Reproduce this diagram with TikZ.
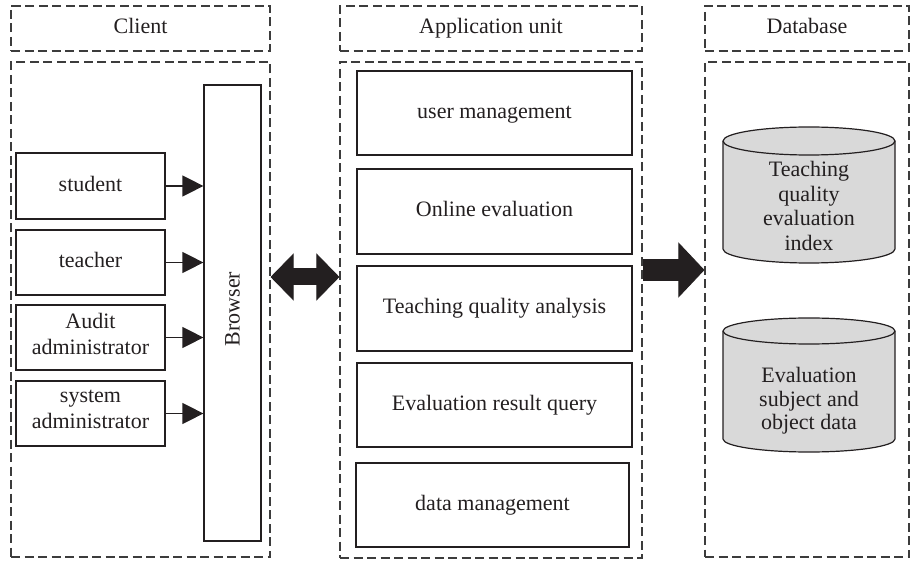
\documentclass[tikz,border=0pt]{standalone}
\usepackage{fontspec}
\setmainfont{Liberation Serif}
\usetikzlibrary{positioning,arrows.meta}
\definecolor{inkgray}{HTML}{231F20}
\definecolor{dashgray}{HTML}{3C3C3C}
\definecolor{dbgray}{HTML}{D9D9D9}

\begin{document}
\begin{tikzpicture}[x=1pt,y=-1pt,
  font=\fontsize{22}{26}\selectfont, text=inkgray,
  dashbox/.style={draw=dashgray, line width=1.1pt, dash pattern=on 9pt off 4.5pt, inner sep=0pt,
    execute at end node=\strut},
  unitbox/.style={draw=inkgray, line width=1.2pt, align=center, inner sep=0pt,
    execute at end node=\strut},
  toarrow/.style={draw=inkgray, line width=1.2pt, -{Triangle[length=21pt,width=21pt]}},
  linkarrow/.style={draw=inkgray, line width=17pt,
    {Triangle[length=23pt,width=47pt,line width=0.8pt]}-{Triangle[length=23pt,width=47pt,line width=0.8pt]}},
  storearrow/.style={draw=inkgray, line width=22pt, -{Triangle[length=26pt,width=55pt,line width=0.8pt]}},
  dbstore/.style={draw=inkgray, fill=dbgray, line width=1.2pt}]
\useasboundingbox (0,0) rectangle (911,561);

% headers
\node[dashbox, minimum width=259pt, minimum height=45pt] (clienthead) at (140.5,28.5) {Client};
\node[dashbox, minimum width=302pt, minimum height=45pt] (apphead) at (491,28.5) {Application unit};
\node[dashbox, minimum width=204pt, minimum height=45pt] (dbhead) at (807,28.5) {Database};

% panels
\node[dashbox, minimum width=259pt, minimum height=495pt] (clientpanel) at (140.5,309.5) {};
\node[dashbox, minimum width=302pt, minimum height=496pt] (apppanel) at (491,310) {};
\node[dashbox, minimum width=204pt, minimum height=495pt] (dbpanel) at (807,309.5) {};

% client side
\node[unitbox, minimum width=57pt, minimum height=456pt] (browser) at (232.5,313) {\rotatebox{90}{Browser}};
\node[unitbox, minimum width=149pt, minimum height=66pt] (student) at (90.5,186) {student};
\node[unitbox, minimum width=149pt, minimum height=65pt] (teacher) at (90.5,262.5) {teacher};
\node[unitbox, minimum width=149pt, minimum height=65pt] (audit) at (90.5,337.5) {Audit\\administrator};
\node[unitbox, minimum width=149pt, minimum height=65pt] (sysadmin) at (90.5,413.5) {system\\administrator};
\foreach \who in {student,teacher,audit,sysadmin}
  \draw[toarrow] (\who.east) -- (\who.east -| browser.west);

% application unit
\node[unitbox, minimum width=275pt, minimum height=84pt] (usermgmt) at (494.5,113) {user management};
\node[unitbox, minimum width=275pt, minimum height=85pt] (onlineeval) at (494.5,211.5) {Online evaluation};
\node[unitbox, minimum width=275pt, minimum height=85pt] (qualityanalysis) at (494.5,308.5) {Teaching quality analysis};
\node[unitbox, minimum width=275pt, minimum height=84pt] (resultquery) at (494.5,405) {Evaluation result query};
\node[unitbox, minimum width=273pt, minimum height=84pt] (datamgmt) at (492.5,505) {data management};

% database
\filldraw[dbstore] (723,141) -- (723,249) arc[start angle=180,end angle=0,x radius=86,y radius=14]
  -- (895,141) arc[start angle=0,end angle=-180,x radius=86,y radius=14] -- cycle;
\draw[dbstore, fill=none] (723,141) arc[start angle=180,end angle=0,x radius=86,y radius=14];
\node[align=center, font=\fontsize{22}{24.5}\selectfont] (qualityindex) at (809,206) {Teaching\\quality\\evaluation\\index};

\filldraw[dbstore] (723,331) -- (723,439) arc[start angle=180,end angle=0,x radius=86,y radius=13]
  -- (895,331) arc[start angle=0,end angle=-180,x radius=86,y radius=13] -- cycle;
\draw[dbstore, fill=none] (723,331) arc[start angle=180,end angle=0,x radius=86,y radius=13];
\node[align=center, font=\fontsize{22}{23.5}\selectfont] (subjectdata) at (809,401) {Evaluation\\subject and\\object data};

% links between tiers
\coordinate (linkrow) at (0,277);
\coordinate (storerow) at (0,270);
\draw[linkarrow] (clientpanel.east |- linkrow) -- (apppanel.west |- linkrow);
\draw[storearrow] (apppanel.east |- storerow) -- (dbpanel.west |- storerow);
\end{tikzpicture}
\end{document}
